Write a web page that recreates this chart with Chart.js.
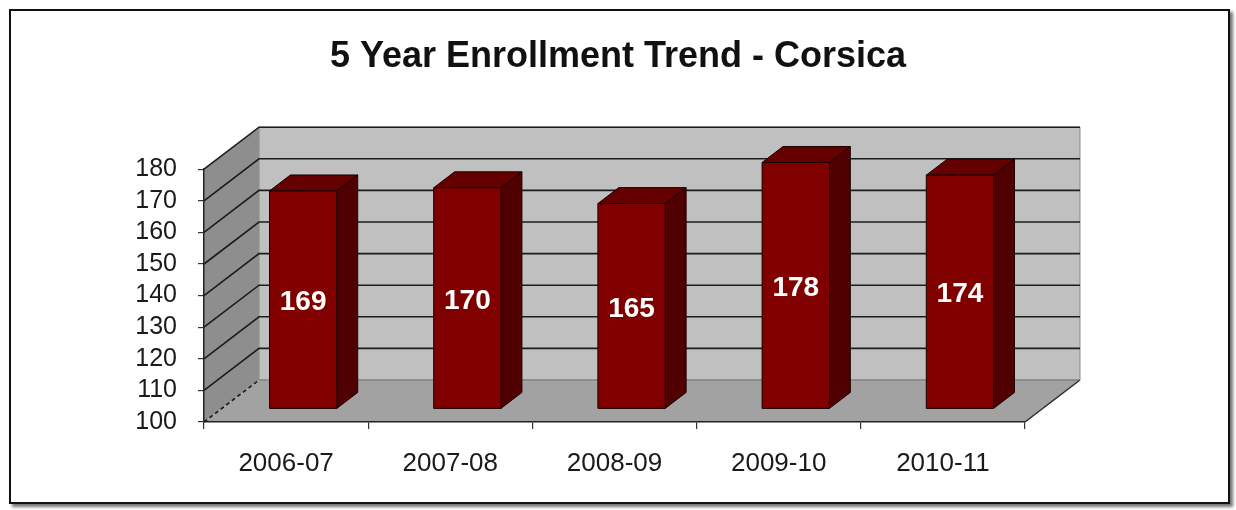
<!DOCTYPE html>
<html>
<head>
<meta charset="utf-8">
<title>5 Year Enrollment Trend - Corsica</title>
<script src="https://cdn.jsdelivr.net/npm/chart.js@4.4.1/dist/chart.umd.min.js"></script>
<style>
  html, body { margin: 0; padding: 0; background: #fff; }
  #frame {
    position: absolute; left: 9px; top: 9px; width: 1217px; height: 491px;
    border: 2px solid #111; box-shadow: 3px 3px 3px rgba(0,0,0,0.55);
  }
  #chart { position: absolute; left: 0; top: 0; }
</style>
</head>
<body>
<div id="frame"></div>
<canvas id="chart" width="1236" height="510"></canvas>
<script>
// Datos del grafico
const seasons = ['2006-07', '2007-08', '2008-09', '2009-10', '2010-11'];
const enrollment = [169, 170, 165, 178, 174];
const yMin = 100;
const yMax = 180;
const yStep = 10;

const FONT = 'Arial, "Liberation Sans", sans-serif';

// Profundidad del efecto 3D (vector hacia el fondo)
const DEPTH = { x: 55, y: -42 };
const BAR_FRONT = 0.31;  // posicion de la cara frontal de la barra
const BAR_DEPTH = 0.38;  // grosor de la barra en profundidad

function poly(ctx, pts, fill, stroke, lw) {
    ctx.beginPath();
    ctx.moveTo(pts[0][0], pts[0][1]);
    for (let i = 1; i < pts.length; i++) ctx.lineTo(pts[i][0], pts[i][1]);
    ctx.closePath();
    if (fill) { ctx.fillStyle = fill; ctx.fill(); }
    if (stroke) { ctx.strokeStyle = stroke; ctx.lineWidth = lw || 1; ctx.stroke(); }
}

// Paredes y piso en 3D
const wallsPlugin = {
    id: 'walls3d',
    beforeDraw(chart) {
        const ctx = chart.ctx;
        const xs = chart.scales.x, ys = chart.scales.y;
        const x0 = xs.left, x1 = xs.right;
        const yT = ys.getPixelForValue(yMax), yB = ys.getPixelForValue(yMin);
        const dx = DEPTH.x, dy = DEPTH.y;
        ctx.save();
        // pared del fondo
        poly(ctx, [[x0 + dx, yT + dy], [x1 + dx, yT + dy], [x1 + dx, yB + dy], [x0 + dx, yB + dy]], '#c0c0c0', '#8a8a8a', 1);
        // pared izquierda
        poly(ctx, [[x0, yT], [x0 + dx, yT + dy], [x0 + dx, yB + dy], [x0, yB]], '#8e8e8e', null);
        // piso
        poly(ctx, [[x0, yB], [x1, yB], [x1 + dx, yB + dy], [x0 + dx, yB + dy]], '#a2a2a2', null);

        // lineas de la grilla
        ctx.strokeStyle = '#1c1c1c';
        ctx.lineWidth = 1.6;
        ys.ticks.forEach(t => {
            const y = ys.getPixelForValue(t.value);
            ctx.setLineDash(t.value === yMin ? [4, 3] : []);
            ctx.beginPath();
            ctx.moveTo(x0, y);
            ctx.lineTo(x0 + dx, y + dy);
            if (t.value !== yMin) ctx.lineTo(x1 + dx, y + dy);
            ctx.stroke();
        });
        ctx.setLineDash([]);
        // bordes del piso
        ctx.strokeStyle = '#2a2a2a';
        ctx.lineWidth = 1.5;
        ctx.beginPath();
        ctx.moveTo(x1 + dx, yB + dy);
        ctx.lineTo(x1, yB);
        ctx.stroke();
        ctx.strokeStyle = '#777';
        ctx.lineWidth = 1;
        ctx.beginPath();
        ctx.moveTo(x0 + dx, yB + dy);
        ctx.lineTo(x1 + dx, yB + dy);
        ctx.stroke();
        ctx.restore();
    }
};

// Barras 3D y etiquetas
const bars3dPlugin = {
    id: 'bars3d',
    afterDatasetsDraw(chart) {
        const ctx = chart.ctx;
        const meta = chart.getDatasetMeta(0);
        const ox = DEPTH.x * BAR_FRONT, oy = DEPTH.y * BAR_FRONT;
        const ddx = DEPTH.x * BAR_DEPTH, ddy = DEPTH.y * BAR_DEPTH;
        ctx.save();
        ctx.lineJoin = 'round';
        meta.data.forEach((el, i) => {
            const L = el.x - el.width / 2 + ox, R = el.x + el.width / 2 + ox;
            const T = el.y + oy, B = el.base + oy;
            poly(ctx, [[L, T], [R, T], [R + ddx, T + ddy], [L + ddx, T + ddy]], '#650000', '#1a0000', 1);
            poly(ctx, [[R, T], [R + ddx, T + ddy], [R + ddx, B + ddy], [R, B]], '#500000', '#1a0000', 1);
            poly(ctx, [[L, T], [R, T], [R, B], [L, B]], '#800000', '#1a0000', 1);
            ctx.fillStyle = '#ffffff';
            ctx.font = 'bold 28px ' + FONT;
            ctx.textAlign = 'center';
            ctx.textBaseline = 'middle';
            ctx.fillText(String(enrollment[i]), (L + R) / 2, (T + B) / 2 + 3);
        });
        ctx.restore();
    }
};

new Chart(document.getElementById('chart'), {
    type: 'bar',
    data: {
        labels: seasons,
        datasets: [{
            data: enrollment,
            base: yMin,
            backgroundColor: 'rgba(0,0,0,0)',
            borderWidth: 0,
            categoryPercentage: 1,
            barPercentage: 0.41
        }]
    },
    options: {
        responsive: false,
        devicePixelRatio: 1,
        animation: false,
        layout: { padding: 0 },
        plugins: {
            legend: { display: false },
            tooltip: { enabled: false },
            title: {
                display: true,
                text: '5 Year Enrollment Trend - Corsica',
                color: '#111',
                font: { family: FONT, size: 36, weight: 'bold' },
                padding: { top: 35, bottom: 91 }
            }
        },
        scales: {
            x: {
                offset: true,
                grid: { offset: true, drawOnChartArea: false, tickLength: 7, color: '#333', lineWidth: 1.2 },
                border: { display: true, color: '#222', width: 1.5 },
                ticks: { color: '#1a1a1a', padding: 19, font: { family: FONT, size: 26 } },
                afterFit(scale) { scale.height = 88; }
            },
            y: {
                min: yMin,
                max: yMax,
                grid: { drawOnChartArea: false, tickLength: 6, color: '#333', lineWidth: 1.2 },
                border: { display: true, color: '#222', width: 1.5 },
                ticks: { stepSize: yStep, autoSkip: false, color: '#1a1a1a', padding: 21, font: { family: FONT, size: 25 } },
                afterFit(scale) { scale.width = 204; }
            },
            // eje vacio a la derecha para reservar el espacio de la profundidad
            yRight: {
                position: 'right',
                min: yMin,
                max: yMax,
                grid: { display: false },
                border: { display: false },
                ticks: { display: false },
                afterFit(scale) { scale.width = 211; }
            }
        }
    },
    plugins: [wallsPlugin, bars3dPlugin]
});
</script>
</body>
</html>
